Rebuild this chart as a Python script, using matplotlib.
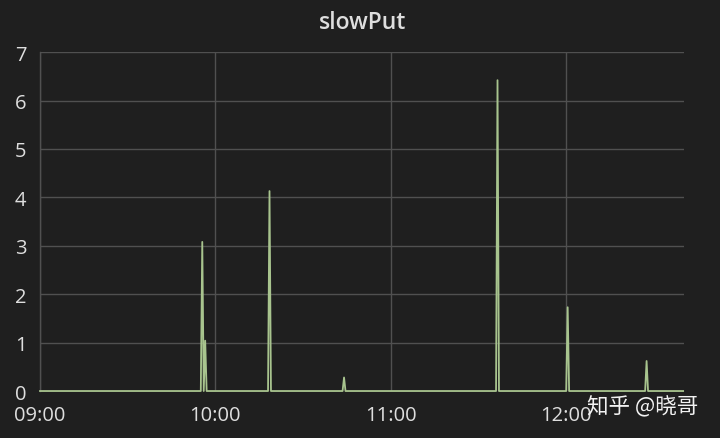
import matplotlib
matplotlib.use("Agg")
import matplotlib.pyplot as plt

# Data: minutes after 09:00 and slowPut values
minutes = [0, 55.0, 55.5, 56.0, 56.5, 57.0, 78.0, 78.5, 79.0, 103.5, 104.0, 104.5,
           156.0, 156.5, 157.0, 180.0, 180.5, 181.0, 207.0, 207.5, 208.0, 220.0]
values = [0, 0, 3.08, 0, 1.04, 0, 0, 4.13, 0, 0, 0.28, 0,
          0, 6.42, 0, 0, 1.73, 0, 0, 0.62, 0, 0]

xtick_pos = [0, 60, 120, 180]
xtick_labels = ["09:00", "10:00", "11:00", "12:00"]
yticks = [0, 1, 2, 3, 4, 5, 6, 7]
title = "slowPut"
watermark = "知乎 @晓哥"

bg = "#1f1f1f"
grid_c = "#505050"
text_c = "#dedede"
line_c = "#a8c48e"

fig = plt.figure(figsize=(7.2, 4.39), dpi=100, facecolor=bg)
ax = fig.add_axes([0.0556, 0.107, 0.894, 0.772])
ax.set_facecolor(bg)

ax.plot(minutes, values, color=line_c, lw=1.3, zorder=3, clip_on=False)

ax.set_xlim(0, 220.2)
ax.set_ylim(0, 7)
ax.set_xticks(xtick_pos)
ax.set_xticklabels(xtick_labels)
ax.set_yticks(yticks)

ax.grid(True, color=grid_c, lw=1.0)
ax.set_axisbelow(True)
for s in ["top", "right", "bottom"]:
    ax.spines[s].set_visible(False)
ax.spines["left"].set_color(grid_c)
ax.spines["left"].set_linewidth(1.0)

ax.tick_params(axis="both", length=0, colors=text_c, labelsize=14.5)
ax.tick_params(axis="y", pad=18)
ax.tick_params(axis="x", pad=10)
for lab in ax.get_yticklabels():
    lab.set_horizontalalignment("left")
for lab in ax.get_xticklabels() + ax.get_yticklabels():
    lab.set_fontfamily("Open Sans")

fig.text(0.5035, 0.948, title, color=text_c, fontsize=16.5, fontweight="semibold",
         family="Open Sans", ha="center", va="center")
fig.text(0.815, 0.073, watermark, color="#f2f2f2", fontsize=15.5,
         family=["Noto Sans CJK SC", "DejaVu Sans"], ha="left", va="center")

fig.savefig("out.png", dpi=100, facecolor=bg)
